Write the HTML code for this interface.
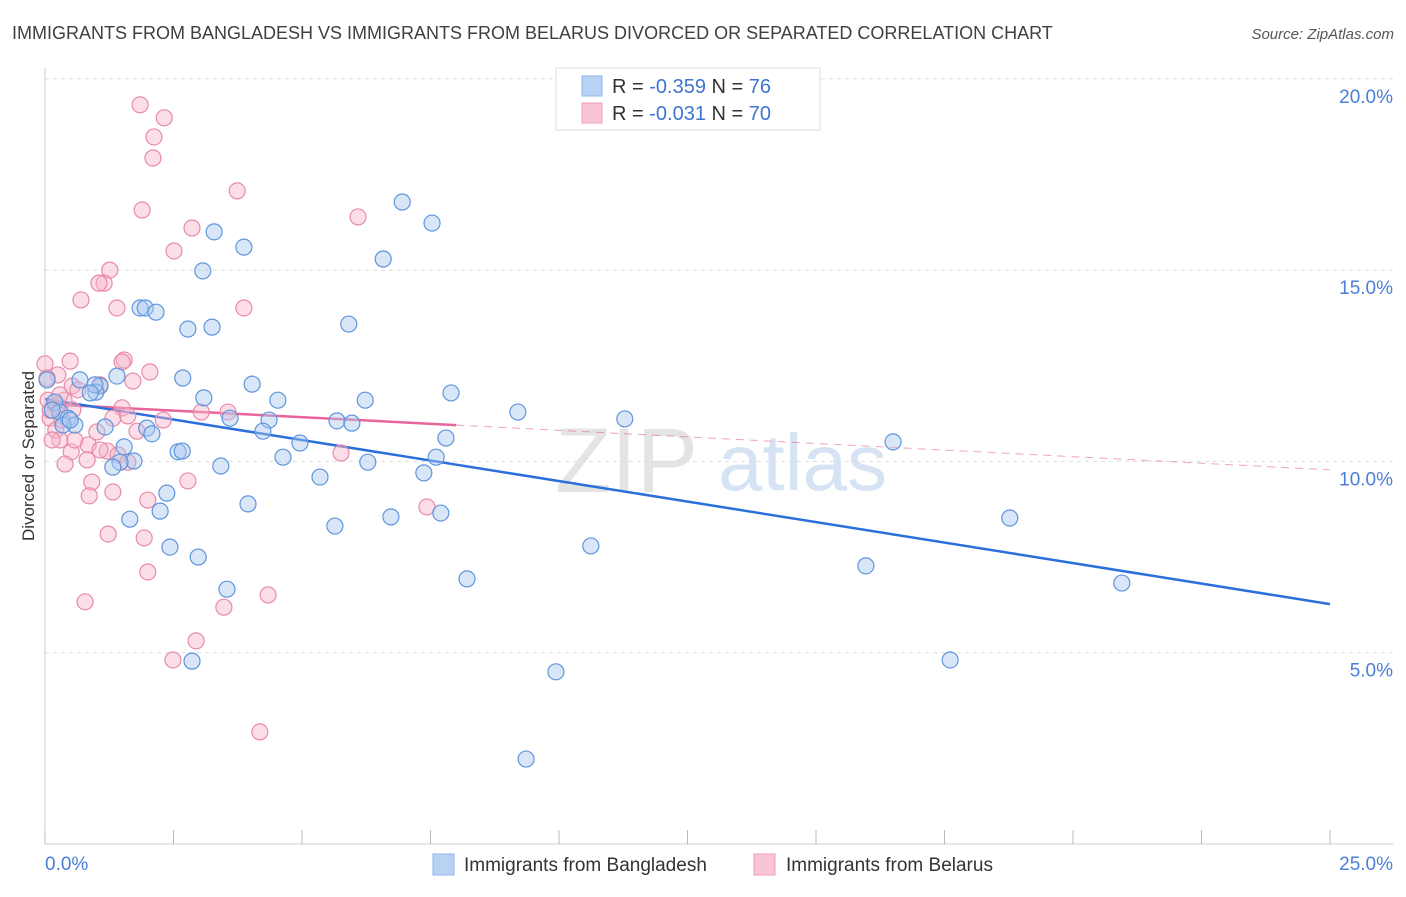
<!DOCTYPE html>
<html><head><meta charset="utf-8"><style>
body{margin:0;background:#fff;font-family:"Liberation Sans",sans-serif;}
svg text{font-family:"Liberation Sans",sans-serif;}
</style></head><body>
<svg id="chart" width="1406" height="892" xmlns="http://www.w3.org/2000/svg">
<text x="12" y="39" font-size="18" fill="#3f3f3f">IMMIGRANTS FROM BANGLADESH VS IMMIGRANTS FROM BELARUS DIVORCED OR SEPARATED CORRELATION CHART</text>
<text x="1394" y="39" font-size="15" fill="#555" font-style="italic" text-anchor="end">Source: ZipAtlas.com</text>
<text transform="translate(34,456) rotate(-90)" font-size="17" fill="#333" text-anchor="middle">Divorced or Separated</text>
<g>
<text x="555" y="492" font-size="92" fill="#e4e4e4" font-family="Liberation Serif,serif">ZIP</text>
<text x="718" y="490" font-size="80" fill="#d6e3f5">atlas</text>
</g>
<g id="grid"></g><g id="axes"></g><g id="lines"></g><g id="pts"></g>
<g>
<rect x="556" y="68" width="264" height="62" fill="#fff" stroke="#ddd"/>
<rect x="582" y="76" width="20" height="20" fill="#b8d2f5" stroke="#8fb4e8"/>
<text x="612" y="93" font-size="20" fill="#333">R = <tspan fill="#3f74d4">-0.359</tspan>   N = <tspan fill="#3f74d4"> 76</tspan></text>
<rect x="582" y="103" width="20" height="20" fill="#f9c5d5" stroke="#ee9fb8"/>
<text x="612" y="120" font-size="20" fill="#333">R = <tspan fill="#3f74d4"> -0.031</tspan>   N = <tspan fill="#3f74d4">70</tspan></text>
</g>
<g>
<rect x="433" y="854" width="21" height="21" fill="#b8d2f5" stroke="#8fb4e8"/>
<text x="464" y="871" font-size="19" fill="#333">Immigrants from Bangladesh</text>
<rect x="754" y="854" width="21" height="21" fill="#f9c5d5" stroke="#ee9fb8"/>
<text x="786" y="871" font-size="19" fill="#333">Immigrants from Belarus</text>
</g>
</svg>
<script>
const blueX=[6.95,7.53,3.29,3.87,6.58,3.07,1.85,1.95,2.16,2.78,3.25,5.91,1.40,2.68,4.03,1.07,0.99,3.09,4.53,6.23,7.90,9.20,11.28,5.68,3.60,4.36,5.97,4.24,1.98,2.08,0.19,0.29,0.45,0.58,1.17,0.68,4.96,7.80,16.50,2.59,2.67,1.54,4.63,6.28,7.61,1.73,1.46,1.32,3.42,7.37,5.35,2.37,3.95,2.24,6.73,7.70,1.65,5.64,18.77,2.43,2.98,10.62,3.54,8.21,15.97,20.95,2.86,17.61,9.94,9.36,0.97,0.04,0.14,0.35,0.88,0.49];
const blueY=[16.78,16.23,16.00,15.60,15.29,14.98,14.01,14.01,13.90,13.46,13.51,13.59,12.23,12.18,12.02,11.97,11.81,11.66,11.60,11.60,11.79,11.29,11.11,11.06,11.13,11.08,11.00,10.79,10.87,10.72,11.55,11.29,11.13,10.95,10.90,12.13,10.48,10.61,10.51,10.25,10.27,10.38,10.11,9.98,10.11,10.01,9.98,9.85,9.88,9.70,9.59,9.17,8.89,8.70,8.55,8.65,8.49,8.31,8.52,7.76,7.50,7.79,6.66,6.93,7.27,6.82,4.78,4.81,4.50,2.22,12.00,12.13,11.34,10.95,11.79,11.08];
const pinkX=[1.85,2.32,2.12,2.10,3.74,1.89,6.09,2.86,2.51,1.26,1.15,1.05,0.70,1.40,3.87,1.54,1.50,0.49,0.0,0.25,1.71,0.04,0.53,0.64,1.07,0.37,0.23,0.54,1.50,2.30,3.04,3.56,1.32,1.61,0.10,0.21,1.01,1.79,0.84,0.29,0.51,1.21,1.42,0.82,0.39,1.61,5.76,2.78,0.91,1.32,0.86,2.00,7.43,1.23,1.93,2.00,0.78,4.34,3.48,2.94,2.49,4.18,0.10,0.14,0.06,1.07,0.58,0.29,0.33,2.04];
const pinkY=[19.32,18.98,18.48,17.93,17.07,16.57,16.39,16.10,15.50,15.00,14.66,14.66,14.22,14.01,14.01,12.65,12.60,12.62,12.55,12.26,12.10,12.18,11.97,11.87,12.00,11.60,11.47,11.34,11.40,11.08,11.29,11.29,11.13,11.19,11.13,10.82,10.77,10.79,10.43,10.56,10.25,10.27,10.17,10.04,9.93,9.98,10.22,9.49,9.46,9.20,9.10,8.99,8.81,8.10,8.00,7.11,6.33,6.51,6.19,5.31,4.81,2.93,11.34,10.56,11.60,10.30,10.56,11.74,11.08,12.34];
const blueTrend=[11.63,6.27];
const pinkTrend=[11.5,9.78];
const pinkSolidEnd=8.0;
const yTicks=[5,10,15,20];
const xTickLabels=["0.0%","25.0%"];
const X0=45,X1=1330,Y0=844,PY=38.26;
const sx=v=>X0+(X1-X0)*v/25, sy=v=>Y0-v*PY;
const NS="http://www.w3.org/2000/svg";
function mk(parent,tag,attrs){const e=document.createElementNS(NS,tag);for(const k in attrs)e.setAttribute(k,attrs[k]);document.getElementById(parent).appendChild(e);return e;}
yTicks.forEach(t=>{
 const g=mk('grid','line',{x1:X0,x2:1393,y1:sy(t),y2:sy(t),stroke:'#ddd','stroke-dasharray':'4,4'});
 
 
 const l=mk('grid','text',{x:1393,y:sy(t)+24,'font-size':19,fill:'#4a7fd8','text-anchor':'end'});
 l.textContent=t.toFixed(1)+'%';
 
 
});
const ax=mk('axes','line',{x1:X0,x2:X0,y1:68,y2:Y0,stroke:'#ccc'});


const bx=mk('axes','line',{x1:X0,x2:1393,y1:Y0,y2:Y0,stroke:'#ccc'});


for(let i=0;i<=10;i++){const t=mk('axes','line',{x1:sx(i*2.5),x2:sx(i*2.5),y1:Y0-14,y2:Y0,stroke:'#bbb'});
 
 }
const xl0=mk('axes','text',{x:45,y:870,'font-size':19,fill:'#4a7fd8'});xl0.textContent=xTickLabels[0];


const xl1=mk('axes','text',{x:1393,y:870,'font-size':19,fill:'#4a7fd8','text-anchor':'end'});xl1.textContent=xTickLabels[1];


function pt(x,y,fill,stroke,name){const c=mk('pts','circle',{cx:sx(x),cy:sy(y),r:8,fill:fill,'fill-opacity':0.45,stroke:stroke,'stroke-width':1.2});
 
 }
pinkX.forEach((x,i)=>pt(x,pinkY[i],'#f7b6ca','#e88aa8','belarus-point'));
blueX.forEach((x,i)=>pt(x,blueY[i],'#a9c8f0','#5f95de','bangladesh-point'));
const pm=pinkTrend[0]+(pinkTrend[1]-pinkTrend[0])*pinkSolidEnd/25;
const pd=mk('lines','line',{x1:sx(pinkSolidEnd),y1:sy(pm),x2:sx(25),y2:sy(pinkTrend[1]),stroke:'#e8649a','stroke-width':1,'stroke-dasharray':'8,6','stroke-opacity':0.6});


const ps=mk('lines','line',{x1:sx(0),y1:sy(pinkTrend[0]),x2:sx(pinkSolidEnd),y2:sy(pm),stroke:'#e8649a','stroke-width':2.5});


const bl=mk('lines','line',{x1:sx(0),y1:sy(blueTrend[0]),x2:sx(25),y2:sy(blueTrend[1]),stroke:'#2a6fdb','stroke-width':2.5});


</script>
</body></html>
